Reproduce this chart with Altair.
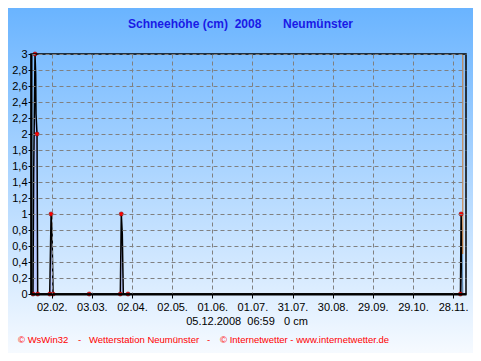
import altair as alt
import pandas as pd

# ---- data ----
dates = [
    "2008-01-17T12:00:00Z", "2008-01-19T00:00:00Z", "2008-01-19T12:00:00Z",
    "2008-01-20T12:00:00Z", "2008-01-21T00:00:00Z", "2008-01-21T06:00:00Z",
    "2008-01-22T00:00:00Z", "2008-01-22T06:00:00Z", "2008-01-22T12:00:00Z",
    "2008-01-31T12:00:00Z", "2008-02-01T12:00:00Z", "2008-02-02T06:00:00Z",
    "2008-02-02T18:00:00Z", "2008-02-03T00:00:00Z",
    "2008-03-24T06:00:00Z", "2008-03-25T00:00:00Z", "2008-03-25T18:00:00Z",
    "2008-03-26T06:00:00Z", "2008-03-26T12:00:00Z",
    "2008-12-03T12:00:00Z", "2008-12-04T00:00:00Z", "2008-12-04T12:00:00Z",
    "2008-12-05T00:00:00Z", "2008-12-07T16:00:00Z",
]
snow = [
    0, 0, 1.5,
    3, 2.75, 2.25,
    2, 1, 0,
    0, 1, 0.75,
    0.25, 0,
    0, 1, 0.75,
    0.25, 0,
    0, 1, 0.75,
    0, 0,
]

dot_dates = [
    "2008-01-19T00:00:00Z", "2008-01-20T12:00:00Z", "2008-01-22T00:00:00Z",
    "2008-01-22T12:00:00Z", "2008-01-31T12:00:00Z", "2008-02-01T12:00:00Z",
    "2008-02-03T00:00:00Z", "2008-03-01T00:00:00Z", "2008-03-24T06:00:00Z",
    "2008-03-25T00:00:00Z", "2008-03-30T00:00:00Z", "2008-12-03T12:00:00Z",
    "2008-12-04T00:00:00Z",
]
dot_values = [0, 3, 2, 0, 0, 1, 0, 0, 0, 1, 0, 0, 1]

marker_date = ["2008-12-05T07:00:00Z", "2008-12-05T07:00:00Z"]
marker_lo = [0.5, 0]
marker_hi = [3, 0.5]
marker_col = ["#d27a2a", "#8cc8ff"]

tick_dates = [(2, 2), (3, 3), (4, 2), (5, 2), (6, 1), (7, 1), (7, 31),
              (8, 30), (9, 29), (10, 29), (11, 28)]
y_ticks = [0, 0.2, 0.4, 0.6, 0.8, 1, 1.2, 1.4, 1.6, 1.8, 2, 2.2, 2.4, 2.6, 2.8, 3]

title_text = "Schneehöhe (cm)\u00a0\u00a02008"
place_text = "Neumünster"
date_text = "05.12.2008\u00a0\u00a006:59\u00a0\u00a0\u00a00 cm"
footer_parts = ["© WsWin32", "-", "Wetterstation Neumünster", "-",
                "© Internetwetter - www.internetwetter.de"]
footer_x = [18, 78, 89, 207, 220]

W, H = 435, 240
PAD = {"left": 23, "top": 46, "right": 7, "bottom": 59}
FONT = "Liberation Sans"

df = pd.DataFrame({"date": dates, "snow": snow})
dots = pd.DataFrame({"date": dot_dates, "snow": dot_values})
marks = pd.DataFrame({"date": marker_date, "snow": marker_lo, "snow2": marker_hi,
                      "col": marker_col})
one = pd.DataFrame({"a": [0]})

xscale = alt.Scale(
    type="utc",
    domain=[alt.DateTime(year=2008, month=1, date=17, hours=12, utc=True),
            alt.DateTime(year=2008, month=12, date=7, hours=16, utc=True)],
)
yscale = alt.Scale(domain=[0, 3], nice=False, zero=True)

xaxis = alt.Axis(
    title=None,
    values=[alt.DateTime(year=2008, month=m, date=d, utc=True) for m, d in tick_dates],
    labelExpr="utcFormat(datum.value, '%d.%m.')",
    grid=True, gridDash=[4, 3], gridColor="#808080", gridWidth=1,
    domainColor="black", domainWidth=2, tickColor="black", tickSize=4,
    labelPadding=3, labelFont=FONT, labelFontSize=11, labelColor="black",
    labelOverlap=False, zindex=1,
)
yaxis = alt.Axis(
    title=None, values=y_ticks,
    labelExpr="replace(format(datum.value, '.1~f'), '.', ',')",
    grid=True, gridDash=[4, 3], gridColor="#808080", gridWidth=1,
    domainColor="black", domainWidth=2, tickColor="black", tickSize=3,
    labelPadding=1, labelFont=FONT, labelFontSize=11, labelColor="black",
    labelOverlap=False, zindex=1,
)

X = alt.X("date:T", scale=xscale, axis=xaxis)
Y = alt.Y("snow:Q", scale=yscale, axis=yaxis)

grad = alt.Gradient(
    gradient="linear",
    stops=[alt.GradientStop(color="#6ab4ff", offset=0),
           alt.GradientStop(color="#f6faff", offset=1)],
    x1=0, x2=0, y1=0, y2=1,
)

bg = alt.Chart(one).mark_rect(fill=grad).encode(
    x=alt.value(-PAD["left"]), x2=alt.value(W + PAD["right"]),
    y=alt.value(-PAD["top"]), y2=alt.value(H + PAD["bottom"]),
)

area = alt.Chart(df).mark_area(fill="#a8b4ff", opacity=0.6).encode(x=X, y=Y)

line = alt.Chart(df).mark_line(color="black", strokeWidth=1.5).encode(x=X, y=Y)

rules = alt.Chart(marks).mark_rule(strokeWidth=1).encode(
    x=X, y=Y, y2="snow2:Q",
    color=alt.Color("col:N", scale=None),
)

points = alt.Chart(dots).mark_point(
    filled=True, fill="#ff0000", stroke="#800000", strokeWidth=0.5, size=18, opacity=1
).encode(x=X, y=Y)

border = alt.Chart(one).mark_rect(
    fill="transparent", stroke="black", strokeWidth=1.5
).encode(x=alt.value(0), x2=alt.value(W), y=alt.value(0), y2=alt.value(H))

title1 = alt.Chart(one).mark_text(
    text=title_text, font=FONT, fontSize=12, fontWeight="bold", color="#1a1ae6",
    align="left", baseline="middle",
).encode(x=alt.value(128 - 31), y=alt.value(24 - 54))

title2 = alt.Chart(one).mark_text(
    text=place_text, font=FONT, fontSize=12, fontWeight="bold", color="#1a1ae6",
    align="left", baseline="middle",
).encode(x=alt.value(283 - 31), y=alt.value(24 - 54))

datel = alt.Chart(one).mark_text(
    text=date_text, font=FONT, fontSize=11, color="black",
    align="center", baseline="middle",
).encode(x=alt.value(247 - 31), y=alt.value(322 - 54))

footer_layers = []
for t, fx in zip(footer_parts, footer_x):
    footer_layers.append(
        alt.Chart(one).mark_text(
            text=t, font=FONT, fontSize=9.5, color="#ff0000",
            align="left", baseline="middle",
        ).encode(x=alt.value(fx - 31), y=alt.value(340 - 54))
    )

chart = alt.layer(bg, area, line, rules, points, border, title1, title2, datel,
                  *footer_layers).properties(
    width=W, height=H,
    autosize=alt.AutoSizeParams(type="none"),
    padding=PAD,
).configure_view(stroke=None)

chart.save("out.html", embed_options={"renderer": "svg", "actions": False})
